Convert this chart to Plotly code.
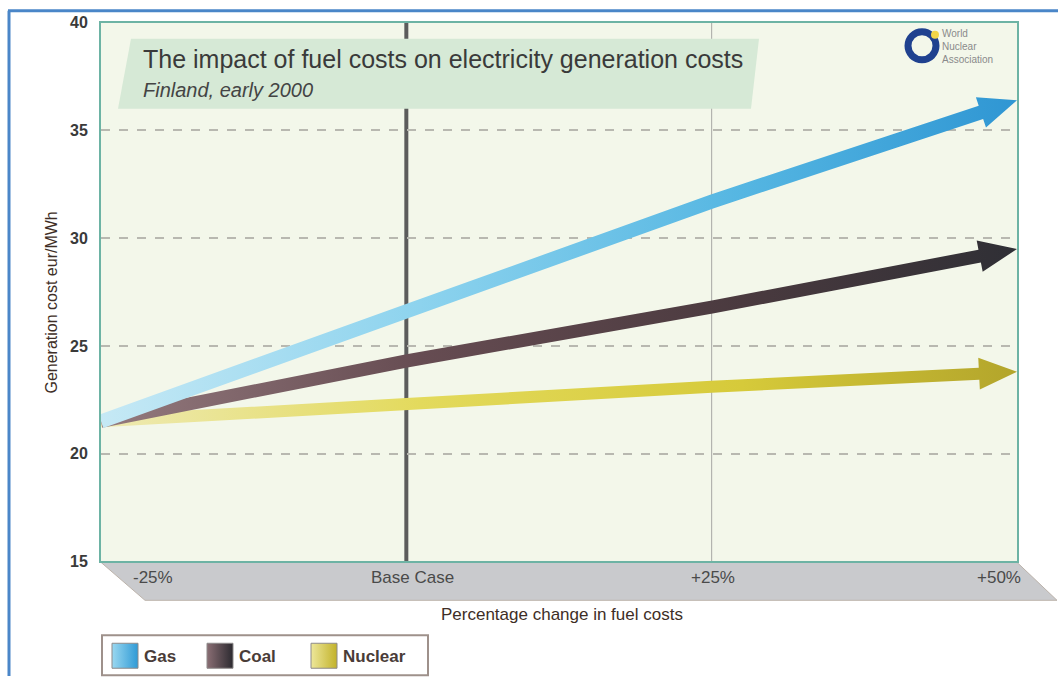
import numpy as np
import plotly.graph_objects as go

# ---------------- data ----------------
X_PCT = [-25, 0, 25, 50]
X_LABELS = ["-25%", "Base Case", "+25%", "+50%"]
GAS = [21.5, 26.6, 31.7, 36.4]
COAL = [21.5, 24.3, 26.8, 29.5]
NUCLEAR = [21.5, 22.3, 23.1, 23.8]
Y_TICKS = [15, 20, 25, 30, 35, 40]
SERIES_NAMES = ["Gas", "Coal", "Nuclear"]

# ---------------- layout geometry (target pixel positions) ----------------
W, H = 1058, 685
X_RANGE = [-25, 50]
Y_RANGE = [15, 40]
PL, PR, PT, PB = 101, 1017, 22, 561
# vertical placement correction observed in the rendered screenshot
V_OFF, V_SCALE = 7.2, 0.976

FONT = "Liberation Sans, Arial, Helvetica, sans-serif"
NARROW = "Liberation Sans Narrow, Arial Narrow, Liberation Sans, Arial, sans-serif"


def px_x(v):
    return PL + (v - X_RANGE[0]) / (X_RANGE[1] - X_RANGE[0]) * (PR - PL)


def px_y(v):
    return PB - (v - Y_RANGE[0]) / (Y_RANGE[1] - Y_RANGE[0]) * (PB - PT)


def data_x(p):
    return X_RANGE[0] + (p - PL) / (PR - PL) * (X_RANGE[1] - X_RANGE[0])


def data_y(p):
    return Y_RANGE[0] + (PB - p) / (PB - PT) * (Y_RANGE[1] - Y_RANGE[0])


def fx(p):
    return p / W


def fy(p):
    v = 1 - ((p - V_OFF) / V_SCALE) / H
    return min(1.0, max(0.0, v))


def arrow_polygon(xs, ys, half_w, head_len, head_hw):
    P = np.array([[px_x(x), px_y(y)] for x, y in zip(xs, ys)], dtype=float)
    tip = P[-1]
    d = tip - P[-2]
    d /= np.linalg.norm(d)
    base = tip - d * head_len
    shaft = np.vstack([P[:-1], base])
    segs = np.diff(shaft, axis=0)
    segs = segs / np.linalg.norm(segs, axis=1)[:, None]
    normals = np.column_stack([-segs[:, 1], segs[:, 0]])
    vn = []
    for i in range(len(shaft)):
        if i == 0:
            n = normals[0]
        elif i == len(shaft) - 1:
            n = normals[-1]
        else:
            m = normals[i - 1] + normals[i]
            m /= np.linalg.norm(m)
            n = m / np.dot(m, normals[i])
        vn.append(n)
    vn = np.array(vn)
    left = shaft + vn * half_w
    right = shaft - vn * half_w
    nd = normals[-1]
    head = np.array([base + nd * head_hw, tip, base - nd * head_hw])
    poly = np.vstack([left, head, right[::-1], left[:1]])
    return [data_x(p[0]) for p in poly], [data_y(p[1]) for p in poly]


series = [
    ("Nuclear", NUCLEAR, [[0, "#eeeab4"], [0.35, "#e3da5c"], [0.7, "#d6ca3a"], [1, "#b3a52b"]], 6.0),
    ("Coal", COAL, [[0, "#947a7e"], [0.35, "#664c52"], [0.7, "#4a3a3f"], [1, "#2f2f35"]], 6.5),
    ("Gas", GAS, [[0, "#c6e9f5"], [0.35, "#8dd3ee"], [0.7, "#55b6e2"], [1, "#2f96d3"]], 7.0),
]

fig = go.Figure()

for name, vals, cs, hw in series:
    ax, ay = arrow_polygon(X_PCT, vals, hw, 38, 16)
    fig.add_trace(go.Scatter(
        x=ax, y=ay, mode="lines", fill="toself",
        line=dict(width=0, color=cs[-1][1]),
        fillgradient=dict(type="horizontal", colorscale=cs),
        hoverinfo="skip", showlegend=False, name=name,
    ))
    fig.add_trace(go.Scatter(
        x=X_PCT, y=vals, mode="markers", marker=dict(size=10, opacity=0),
        name=name, showlegend=False,
        hovertemplate=name + ": %{y} eur/MWh<extra></extra>",
    ))

# ---------------- legend (custom, gradient swatches) ----------------
LEG_L, LEG_R, LEG_T, LEG_B = 102, 428, 635, 675
legend_colors = {
    "Gas": [[0, "#9ad8f0"], [1, "#2f9ad6"]],
    "Coal": [[0, "#8a6e74"], [1, "#2c2a30"]],
    "Nuclear": [[0, "#ede79a"], [1, "#c2b22a"]],
}
legend_x = [10, 105, 209]
for name, lx in zip(SERIES_NAMES, legend_x):
    fig.add_trace(go.Scatter(
        x=[lx, lx + 26, lx + 26, lx, lx], y=[8, 8, 33, 33, 8],
        xaxis="x2", yaxis="y2", mode="lines", fill="toself",
        line=dict(width=1, color="#8d8a8a"),
        fillgradient=dict(type="horizontal", colorscale=legend_colors[name]),
        hoverinfo="skip", showlegend=False,
    ))

annotations = []
for name, lx in zip(SERIES_NAMES, legend_x):
    annotations.append(dict(
        x=lx + 30, y=21, xref="x2", yref="y2", text="<b>" + name + "</b>",
        showarrow=False, xanchor="left", yanchor="middle",
        font=dict(family=FONT, size=17, color="#4a3c38"),
    ))

# x category labels on the floor
x_anchor = ["left", "center", "center", "right"]
x_shift = [30, 6, 1, 6]
for v, lab, xa, xs in zip(X_PCT, X_LABELS, x_anchor, x_shift):
    annotations.append(dict(
        x=v, y=fy(577), xref="x", yref="paper", text=lab, showarrow=False,
        xanchor=xa, yanchor="middle", xshift=xs,
        font=dict(family=NARROW, size=17, color="#4a4a4a"),
    ))

annotations += [
    dict(x=fx(562), y=fy(614), xref="paper", yref="paper",
         text="Percentage change in fuel costs", showarrow=False,
         xanchor="center", yanchor="middle",
         font=dict(family=NARROW, size=17, color="#3e2e26")),
    dict(x=fx(52), y=fy(302), xref="paper", yref="paper",
         text="Generation cost eur/MWh", showarrow=False, textangle=-90,
         xanchor="center", yanchor="middle",
         font=dict(family=NARROW, size=16, color="#3e2e26")),
    dict(x=fx(141), y=fy(58), xref="paper", yref="paper",
         text="The impact of fuel costs on electricity generation costs",
         showarrow=False, xanchor="left", yanchor="middle",
         font=dict(family=FONT, size=25, color="#3a3a3a")),
    dict(x=fx(141), y=fy(89), xref="paper", yref="paper",
         text="<i>Finland, early 2000</i>",
         showarrow=False, xanchor="left", yanchor="middle",
         font=dict(family=FONT, size=20, color="#444444")),
    dict(x=fx(940), y=fy(46), xref="paper", yref="paper",
         text="World<br>Nuclear<br>Association",
         showarrow=False, xanchor="left", yanchor="middle", align="left",
         font=dict(family=FONT, size=10, color="#8a8a8a")),
]


def path(points):
    s = "M " + " L ".join(f"{fx(x):.5f},{fy(y):.5f}" for x, y in points) + " Z"
    return s


shapes = [
    # floor under x axis
    dict(type="path", xref="paper", yref="paper", layer="below",
         path=path([(101, 562), (1017, 562), (1057, 600), (145, 600)]),
         fillcolor="#c9cacd", line=dict(color="#bcb3ab", width=1)),
    # legend box
    dict(type="rect", xref="paper", yref="paper", layer="below",
         x0=fx(LEG_L), x1=fx(LEG_R), y0=fy(LEG_B), y1=fy(LEG_T),
         fillcolor="#ffffff", line=dict(color="#9e918b", width=2)),
    # base case and +25% vertical lines
    dict(type="line", xref="x", yref="y domain", layer="below",
         x0=X_PCT[1], x1=X_PCT[1], y0=0, y1=1,
         line=dict(color="#5c5c5c", width=4)),
    dict(type="line", xref="x", yref="y domain", layer="below",
         x0=X_PCT[2], x1=X_PCT[2], y0=0, y1=1,
         line=dict(color="#a8a8a4", width=1)),
    # title box
    dict(type="path", xref="paper", yref="paper", layer="above",
         path=path([(131, 38), (759, 38), (751, 108), (118, 108)]),
         fillcolor="#d6e9d6", line=dict(width=0)),
    # logo
    dict(type="circle", xref="paper", yref="paper", layer="above",
         x0=fx(908), x1=fx(936), y0=fy(59), y1=fy(31),
         fillcolor="rgba(0,0,0,0)", line=dict(color="#1f418f", width=7)),
    dict(type="circle", xref="paper", yref="paper", layer="above",
         x0=fx(931), x1=fx(939), y0=fy(38), y1=fy(30),
         fillcolor="#f2d548", line=dict(width=0)),
    # blue frame
    dict(type="line", xref="paper", yref="paper", layer="above",
         x0=fx(8), x1=fx(1058), y0=fy(10), y1=fy(10),
         line=dict(color="#4a86c8", width=3)),
    dict(type="line", xref="paper", yref="paper", layer="above",
         x0=fx(9), x1=fx(9), y0=fy(10), y1=fy(685),
         line=dict(color="#4a86c8", width=3)),
]

fig.update_layout(
    width=W, height=H, autosize=False,
    margin=dict(l=0, r=0, t=0, b=0, pad=0),
    paper_bgcolor="#ffffff", plot_bgcolor="#f3f7ea",
    showlegend=False, hovermode="closest",
    xaxis=dict(domain=[fx(PL), fx(PR)], range=X_RANGE, showticklabels=False,
               showgrid=False, zeroline=False, ticks="",
               showline=True, mirror=True, linecolor="#6db3a4", linewidth=2),
    yaxis=dict(domain=[fy(PB), fy(PT)], range=Y_RANGE, tickvals=Y_TICKS,
               ticks="", ticklabelstandoff=8,
               tickfont=dict(family=FONT, size=16, color="#3a3a3a", weight="bold"),
               showgrid=True, gridcolor="#b8b8b0", griddash="dash", gridwidth=1.5,
               zeroline=False,
               showline=True, mirror=True, linecolor="#6db3a4", linewidth=2),
    xaxis2=dict(domain=[fx(LEG_L), fx(LEG_R)], range=[0, LEG_R - LEG_L],
                visible=False, anchor="y2", fixedrange=True),
    yaxis2=dict(domain=[fy(LEG_B), fy(LEG_T)], range=[LEG_B - LEG_T, 0],
                visible=False, anchor="x2", fixedrange=True),
    annotations=annotations,
    shapes=shapes,
)

fig.write_html(
    "out.html",
    config={"displayModeBar": False},
    post_script=(
        "document.body.style.margin='0';document.body.style.padding='0';"
        "document.documentElement.style.overflow='hidden';"
        "var gd=document.getElementById('{plot_id}');"
        "gd.style.position='absolute';gd.style.top='0px';gd.style.left='0px';"
    ),
)
